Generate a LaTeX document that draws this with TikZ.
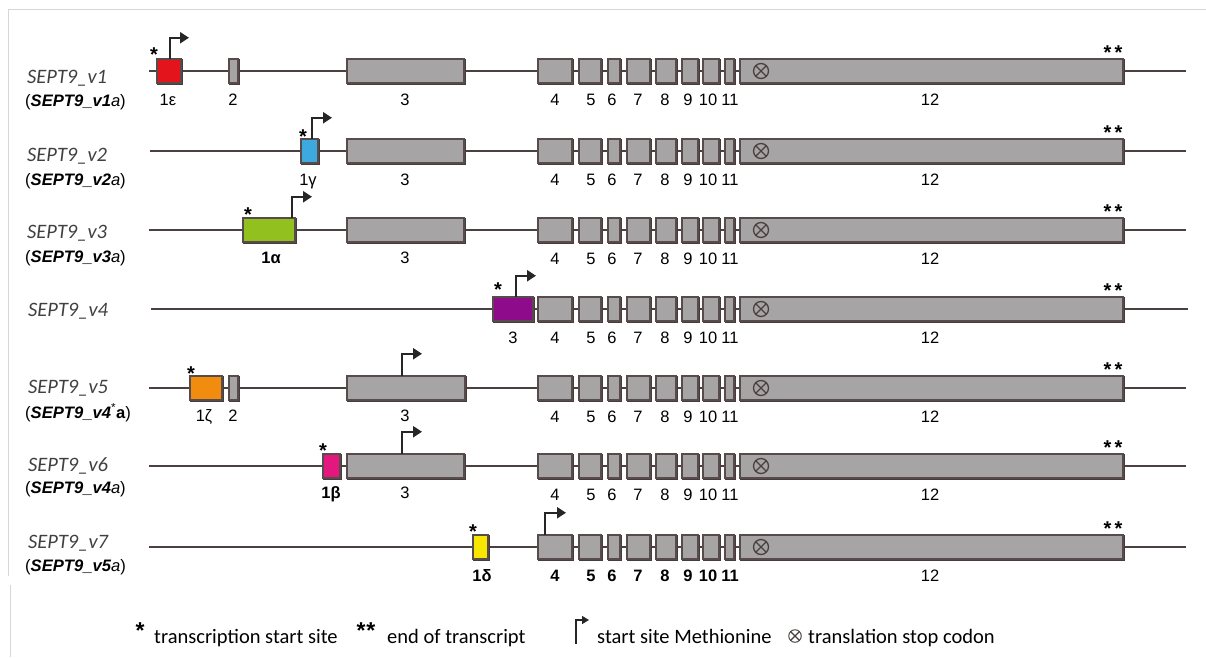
\documentclass[tikz,border=0pt]{standalone}
\usepackage{fontspec}
\setmainfont{Liberation Sans}
\newfontfamily\calibrifont{Carlito}
\usetikzlibrary{arrows.meta}

\definecolor{exongray}{HTML}{A7A4A5}
\definecolor{edge}{HTML}{584B4B}
\definecolor{intron}{HTML}{4A4040}
\definecolor{labelgray}{HTML}{404040}
\definecolor{framegray}{HTML}{D6D6D6}
\definecolor{e1eps}{HTML}{E3141B}
\definecolor{e1gam}{HTML}{3DA9DE}
\definecolor{e1alp}{HTML}{92C01F}
\definecolor{e3pur}{HTML}{8E0C8C}
\definecolor{e1zet}{HTML}{F28C0F}
\definecolor{e1bet}{HTML}{E4177F}
\definecolor{e1del}{HTML}{F7E600}

\tikzset{
  exon/.style={draw=edge, line width=1.9pt, inner sep=0pt, outer sep=0pt, minimum height=24.5pt,
    preaction={draw=edge!80!black, fill=edge!80!black, transform canvas={shift={(0.8pt,-1.2pt)}}}},
  intronline/.style={draw=intron, line width=2.2pt},
  numbase/.style={anchor=base, inner sep=0pt},
  exnum/.style={numbase, font=\fontsize{16.5}{18}\selectfont},
  boldnum/.style={numbase, font=\fontsize{16.5}{18}\selectfont\bfseries},
  tss/.style={font=\bfseries\fontsize{20}{20}\selectfont, inner sep=0pt, anchor=base, yshift=-11.2pt},
  endmark/.style={tss},
  metarrow/.style={draw=black!85, line width=2.2pt, -{Triangle[length=9pt,width=11pt]}},
  stopcodon/.style={circle, draw=intron, line width=1.3pt, minimum size=15pt, inner sep=0pt,
    path picture={\draw[draw=intron, line width=1.3pt]
      (path picture bounding box.north west) -- (path picture bounding box.south east)
      (path picture bounding box.north east) -- (path picture bounding box.south west);}},
  vname/.style={anchor=base west, inner sep=0pt, text=labelgray,
    font=\calibrifont\itshape\fontsize{20.5}{22}\selectfont},
  vsub/.style={anchor=base west, inner sep=0pt, font=\fontsize{16.6}{18}\selectfont},
  legtext/.style={anchor=base west, inner sep=0pt, font=\calibrifont\fontsize{20.5}{22}\selectfont},
  legstar/.style={font=\bfseries\fontsize{23}{23}\selectfont, inner sep=0pt, anchor=base, yshift=-13pt},
  legarrow/.style={draw=black!85, line width=1.4pt, -{Triangle[length=7pt,width=8pt]}},
  framerule/.style={draw=framegray, line width=0.8pt}
}

% exon box from its left and right edge: [fill]{name}{left}{right}{y}
\newcommand\ex[5][exongray]{%
  \pgfmathsetmacro\exw{#4-#3-1.9}%
  \pgfmathsetmacro\exc{(#3+#4)/2}%
  \node[exon, fill=#1, minimum width=\exw pt] (#2) at (\exc,#5) {};}

% exons 4 to 12 shared by every transcript: {prefix}{y}{number style}
\newcommand\tailexons[3]{%
  \ex{#1e4}{537}{573}{#2}
  \ex{#1e5}{578}{602}{#2}
  \ex{#1e6}{607}{621}{#2}
  \ex{#1e7}{626}{651}{#2}
  \ex{#1e8}{655}{677}{#2}
  \ex{#1e9}{681}{699}{#2}
  \ex{#1e10}{702}{720}{#2}
  \ex{#1e11}{724}{735}{#2}
  \ex{#1e12}{739}{1124}{#2}
  \node[stopcodon] (#1stop) at (761,#2) {};
  \node[endmark] (#1end) at (1113,#2-23) {*\hspace{3pt}*};
  \node[#3] (#1n4) at (555,#2+34.5) {4};
  \node[#3] (#1n5) at (591,#2+34.5) {5};
  \node[#3] (#1n6) at (612,#2+34.5) {6};
  \node[#3] (#1n7) at (638,#2+34.5) {7};
  \node[#3] (#1n8) at (665,#2+34.5) {8};
  \node[#3] (#1n9) at (688,#2+34.5) {9};
  \node[#3] (#1n10) at (708,#2+34.5) {10};
  \node[#3] (#1n11) at (730,#2+34.5) {11};
  \node[exnum] (#1n12) at (930,#2+34.5) {12};
}

\begin{document}
\begin{tikzpicture}[x=1pt,y=-1pt]
\useasboundingbox (0,0) rectangle (1206,657);

% panel frame
\draw[framerule] (1206,9) -- (8,9) -- (8,576);
\draw[framerule] (10,585) -- (10,657);

% ---------------- SEPT9_v1
\coordinate (r1a) at (149,71); \coordinate (r1b) at (1186,71);
\draw[intronline] (r1a) -- (r1b);
\ex[e1eps]{r1e1}{156}{182}{71}
\ex{r1e2}{228}{239}{71}
\ex{r1e3}{346}{465}{71}
\tailexons{r1}{71}{exnum}
\node[tss] (r1s) at (154,50) {*};
\coordinate (r1m) at (170,71);
\draw[metarrow] (r1e1.north -| r1m) -- ++(0,-21) -- ++(19,0);
\node[exnum] (r1n1) at (168,105.5) {1ε};
\node[exnum] (r1n2) at (233,105.5) {2};
\node[exnum] (r1n3) at (405,105.5) {3};
\node[vname] (r1name) at (27,83.4) {SEPT9\_v1};
\node[vsub] (r1sub) at (25,106.5) {(\textbf{\textit{SEPT9\_v1}}\textit{a})};

% ---------------- SEPT9_v2
\coordinate (r2a) at (150,151); \coordinate (r2b) at (1186,151);
\draw[intronline] (r2a) -- (r2b);
\ex[e1gam]{r2e1}{300}{319}{151}
\ex{r2e3}{346}{465}{151}
\tailexons{r2}{151}{exnum}
\node[tss] (r2s) at (303,132) {*};
\coordinate (r2m) at (312,151);
\draw[metarrow] (r2e1.north -| r2m) -- ++(0,-21) -- ++(20,0);
\node[exnum] (r2n1) at (308,185.5) {1γ};
\node[exnum] (r2n3) at (405,185.5) {3};
\node[vname] (r2name) at (27,161) {SEPT9\_v2};
\node[vsub] (r2sub) at (25,185.5) {(\textbf{\textit{SEPT9\_v2}}\textit{a})};

% ---------------- SEPT9_v3
\coordinate (r3a) at (149,230); \coordinate (r3b) at (1186,230);
\draw[intronline] (r3a) -- (r3b);
\ex[e1alp]{r3e1}{242}{296}{230}
\ex{r3e3}{346}{465}{230}
\tailexons{r3}{230}{exnum}
\node[tss] (r3s) at (248,210) {*};
\coordinate (r3m) at (292,230);
\draw[metarrow] (r3e1.north -| r3m) -- ++(0,-21) -- ++(20,0);
\node[boldnum] (r3n1) at (271,263) {1α};
\node[exnum] (r3n3) at (405,263) {3};
\node[vname] (r3name) at (27,238.5) {SEPT9\_v3};
\node[vsub] (r3sub) at (25,262.5) {(\textbf{\textit{SEPT9\_v3}}\textit{a})};

% ---------------- SEPT9_v4
\coordinate (r4a) at (151,309); \coordinate (r4b) at (1188,309);
\draw[intronline] (r4a) -- (r4b);
\ex[e3pur]{r4e3}{492}{534}{309}
\tailexons{r4}{309}{exnum}
\node[tss] (r4s) at (498,285) {*};
\coordinate (r4m) at (516,309);
\draw[metarrow] (r4e3.north -| r4m) -- ++(0,-21) -- ++(20,0);
\node[exnum] (r4n3) at (513,343.5) {3};
\node[vname] (r4name) at (28,316) {SEPT9\_v4};

% ---------------- SEPT9_v5
\coordinate (r5a) at (149,388); \coordinate (r5b) at (1186,388);
\draw[intronline] (r5a) -- (r5b);
\ex[e1zet]{r5e1}{189}{223}{388}
\ex{r5e2}{228}{239}{388}
\ex{r5e3}{346}{466}{388}
\tailexons{r5}{388}{exnum}
\node[tss] (r5s) at (191,369) {*};
\coordinate (r5m) at (402,388);
\draw[metarrow] (r5e3.north -| r5m) -- ++(0,-22) -- ++(20,0);
\node[exnum] (r5n1) at (204,421) {1ζ};
\node[exnum] (r5n2) at (233,421) {2};
\node[exnum] (r5n3) at (405,421) {3};
\node[vname] (r5name) at (28,393.4) {SEPT9\_v5};
\node[vsub] (r5sub) at (25,418.2) {(\textbf{\textit{SEPT9\_v4}}\textsuperscript{*}\textbf{a})};

% ---------------- SEPT9_v6
\coordinate (r6a) at (149,466); \coordinate (r6b) at (1186,466);
\draw[intronline] (r6a) -- (r6b);
\ex[e1bet]{r6e1}{322}{341}{466}
\ex{r6e3}{346}{465}{466}
\tailexons{r6}{466}{exnum}
\node[tss] (r6s) at (323,446) {*};
\coordinate (r6m) at (402,466);
\draw[metarrow] (r6e3.north -| r6m) -- ++(0,-22) -- ++(20,0);
\node[boldnum] (r6n1) at (331,498.5) {1β};
\node[exnum] (r6n3) at (405,498.5) {3};
\node[vname] (r6name) at (28,471.7) {SEPT9\_v6};
\node[vsub] (r6sub) at (25,493.8) {(\textbf{\textit{SEPT9\_v4}}\textit{a})};

% ---------------- SEPT9_v7
\coordinate (r7a) at (149,547); \coordinate (r7b) at (1186,547);
\draw[intronline] (r7a) -- (r7b);
\ex[e1del]{r7e1}{472}{489}{547}
\tailexons{r7}{547}{boldnum}
\node[tss] (r7s) at (473,527) {*};
\coordinate (r7m) at (545,547);
\draw[metarrow] (r7e4.north -| r7m) -- ++(0,-22) -- ++(21,0);
\node[boldnum] (r7n1) at (482,581.5) {1δ};
\node[vname] (r7name) at (28,548.4) {SEPT9\_v7};
\node[vsub] (r7sub) at (25,571.5) {(\textbf{\textit{SEPT9\_v5}}\textit{a})};

% ---------------- key
\node[legstar] (k1s) at (140,625) {*};
\node[legtext] (k1t) at (154,643) {transcription start site};
\node[legstar] (k2s) at (366,625) {*\hspace{1pt}*};
\node[legtext] (k2t) at (387,643) {end of transcript};
\coordinate (k3a) at (576,644);
\draw[legarrow] (k3a) -- ++(0,-24) -- ++(13,0);
\node[legtext] (k3t) at (597,643) {start site Methionine};
\node[stopcodon, minimum size=12.5pt, line width=1pt] (k4s) at (795,636) {};
\node[legtext] (k4t) at (808,643) {translation stop codon};
\end{tikzpicture}
\end{document}
